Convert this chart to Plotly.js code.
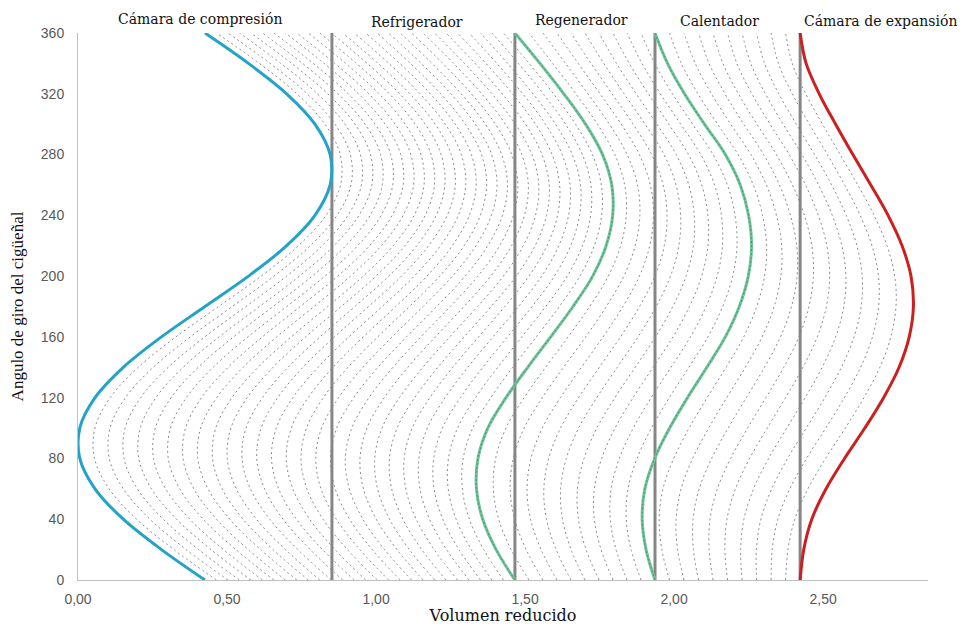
<!DOCTYPE html>
<html>
<head>
<meta charset="utf-8">
<script src="https://cdn.plot.ly/plotly-3.0.1.min.js"></script>
<style>html,body{margin:0;padding:0;background:#fff;}#chart{width:962px;height:625px;}</style>
</head>
<body>
<div id="chart"></div>
<script>
// Crank angle (degrees)
const angles = [0,20,40,60,80,100,120,140,160,180,200,220,240,260,280,300,320,340,360];
// Compression piston face (blue)
const compressionPiston = [0.426,0.280,0.152,0.057,0.006,0.006,0.057,0.152,0.280,0.426,0.572,0.700,0.795,0.846,0.846,0.795,0.700,0.572,0.426];
// Particle starting at cooler/regenerator boundary (green)
const regenParticle = [1.466,1.403,1.358,1.337,1.342,1.375,1.436,1.509,1.586,1.661,1.727,1.772,1.794,1.791,1.760,1.703,1.630,1.550,1.466];
// Particle starting at regenerator/heater boundary (green)
const heaterParticle = [1.936,1.906,1.893,1.902,1.935,1.985,2.045,2.110,2.172,2.219,2.249,2.260,2.250,2.222,2.172,2.102,2.035,1.978,1.936];
// Expansion piston face (red)
const expansionPiston = [2.423,2.435,2.462,2.510,2.572,2.640,2.703,2.755,2.789,2.803,2.795,2.765,2.718,2.660,2.600,2.542,2.487,2.443,2.423];
// Heat-exchanger walls
const wallPositions = [0.852,1.466,1.936,2.423];
// Number of gas-particle intervals between the key particle curves
const guideCounts = [27,10,10];
// Ticks and labels
const xTickVals = [0,0.5,1,1.5,2,2.5];
const xTickText = ['0,00','0,50','1,00','1,50','2,00','2,50'];
const yTickVals = [0,40,80,120,160,200,240,280,320,360];
const sectionLabels = ['Cámara de compresión','Refrigerador','Regenerador','Calentador','Cámara de expansión'];

const labelX = [0.409,1.138,1.691,2.154,2.691];
const labelYShift = [4,1,3,2,2];

const traces = [];
const keyCurves = [compressionPiston, regenParticle, heaterParticle, expansionPiston];
const guideLine = {color:'#8a8a8a', width:1, dash:'2px,3px', shape:'spline', smoothing:1};
for (let s = 0; s < guideCounts.length; s++) {
  const a = keyCurves[s], b = keyCurves[s+1], n = guideCounts[s];
  for (let j = 1; j < n; j++) {
    const f = j / n;
    traces.push({
      x: a.map((v,i) => v + (b[i]-v)*f), y: angles,
      mode:'lines', line:guideLine, hoverinfo:'skip', showlegend:false
    });
  }
}
wallPositions.forEach(w => traces.push({
  x:[w,w], y:[angles[0], angles[angles.length-1]], mode:'lines',
  line:{color:'#868686', width:3}, showlegend:false, hoverinfo:'skip'
}));
[regenParticle, heaterParticle].forEach(p => {
  traces.push({x:p, y:angles, mode:'lines', line:{color:'#6cc596', width:3, shape:'spline', smoothing:1}, showlegend:false});
  traces.push({x:p, y:angles, mode:'lines', line:{color:'#4f8f6e', width:1, dash:'2px,2px', shape:'spline', smoothing:1}, showlegend:false});
});
traces.push({x:compressionPiston, y:angles, mode:'lines', line:{color:'#23a3c8', width:3, shape:'spline', smoothing:1}, showlegend:false});
traces.push({x:expansionPiston, y:angles, mode:'lines', line:{color:'#cc1f1f', width:3, shape:'spline', smoothing:1}, showlegend:false});

const annotations = sectionLabels.map((t,i) => ({
  text:t, x:labelX[i], xref:'x', y:1, yref:'paper', yanchor:'bottom', yshift:labelYShift[i],
  showarrow:false, font:{family:'DejaVu Serif', size:14, color:'#111'}
}));

const layout = {
  width:962, height:625,
  margin:{l:78, r:34, t:33, b:45},
  paper_bgcolor:'#fff', plot_bgcolor:'#fff',
  showlegend:false,
  xaxis:{
    range:[0,2.852], tickvals:xTickVals, ticktext:xTickText,
    showgrid:false, zeroline:false, showline:true, linecolor:'#c0c0c0', linewidth:1,
    ticks:'outside', ticklen:6, tickcolor:'rgba(0,0,0,0)',
    tickfont:{family:'Liberation Sans', size:14, color:'#595959'},
    title:{text:'Volumen reducido', font:{family:'DejaVu Serif', size:16, color:'#111'}, standoff:1},
    automargin:false
  },
  yaxis:{
    range:[0,360], tickvals:yTickVals,
    showgrid:false, zeroline:false, showline:true, linecolor:'#c0c0c0', linewidth:1,
    ticks:'outside', ticklen:10, tickcolor:'rgba(0,0,0,0)',
    tickfont:{family:'Liberation Sans', size:14, color:'#595959'},
    title:{text:'Angulo de giro del cigüeñal', font:{family:'Liberation Serif', size:17, color:'#111'}, standoff:12},
    automargin:false
  },
  annotations:annotations
};
Plotly.newPlot('chart', traces, layout, {staticPlot:true, displayModeBar:false});
</script>
</body>
</html>
